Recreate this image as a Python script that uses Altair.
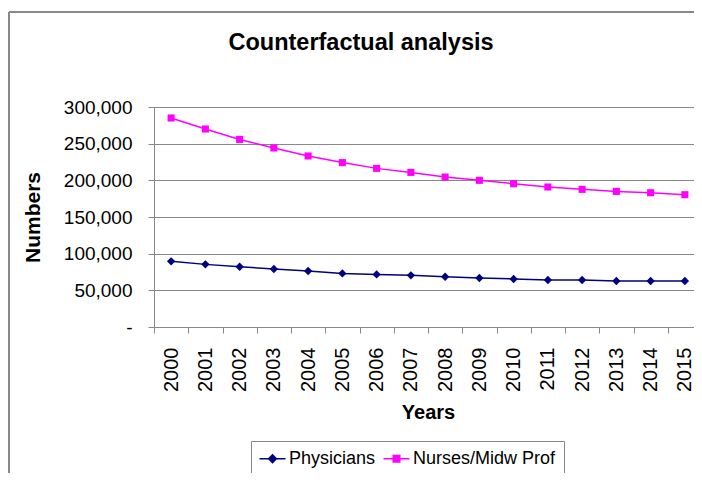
import altair as alt
import pandas as pd

years = [str(y) for y in range(2000, 2016)]
physicians = [89500, 85400, 82200, 79100, 76400, 73100, 71700, 70400, 68600, 66800, 65500, 64100, 64100, 62700, 62700, 62700]
nurses = [285000, 270000, 255800, 244100, 233200, 224200, 216300, 210800, 204500, 200000, 195400, 190900, 187700, 184900, 183100, 180400]
series_names = ["Physicians", "Nurses/Midw Prof"]
series_colors = ["#000080", "#FF00FF"]
legend_paths = [
    "M-1.5,0H1.5M0,-0.45L0.45,0L0,0.45L-0.45,0Z",
    "M-1.5,0H1.5M-0.38,-0.38H0.38V0.38H-0.38Z",
]
y_ticks = [0, 50000, 100000, 150000, 200000, 250000, 300000]

FONT = "Liberation Sans"

df = pd.DataFrame({
    "Year": years * 2,
    "Value": physicians + nurses,
    "Series": [series_names[0]] * len(years) + [series_names[1]] * len(years),
})
df_phys = df[df["Series"] == series_names[0]]
df_nurse = df[df["Series"] == series_names[1]]

x_enc = alt.X(
    "Year:O",
    title="Years",
    scale=alt.Scale(paddingInner=0, paddingOuter=0),
    axis=alt.Axis(
        labelAngle=270,
        labelFontSize=20,
        labelFont=FONT,
        labelColor="black",
        labelPadding=14,
        tickSize=6,
        tickBand="extent",
        tickColor="#888888",
        domainColor="#888888",
        grid=False,
        titleFont=FONT,
        titleFontSize=20,
        titleFontWeight="bold",
        titleColor="black",
        titleX=274,
        titleY=75,
        titleBaseline="top",
        titleAnchor="middle",
    ),
)
y_scale = alt.Scale(domain=[0, 300000], nice=False, zero=True)
y_axis = alt.Axis(
    values=y_ticks,
    labelOverlap=False,
    labelExpr="datum.value == 0 ? '-\u00a0\u00a0\u00a0\u00a0' : format(datum.value, ',')",
    labelFontSize=19,
    labelFont=FONT,
    labelColor="black",
    labelPadding=16,
    tickSize=6,
    tickColor="#888888",
    domainColor="#888888",
    gridColor="#888888",
    gridWidth=1,
    titleFont=FONT,
    titleFontSize=21,
    titleFontWeight="bold",
    titleColor="black",
    titleAngle=270,
    titleX=-121,
    titleY=110,
    titleBaseline="middle",
    titleAlign="center",
)
y_enc = alt.Y("Value:Q", title="Numbers", scale=y_scale, axis=y_axis)

line_phys = alt.Chart(df_phys).mark_line(color=series_colors[0], strokeWidth=1.5).encode(x=x_enc, y=y_enc)
pts_phys = alt.Chart(df_phys).mark_point(filled=True, shape="diamond", size=70, color=series_colors[0], opacity=1).encode(x=x_enc, y=y_enc)
line_nurse = alt.Chart(df_nurse).mark_line(color=series_colors[1], strokeWidth=1.5).encode(x=x_enc, y=y_enc)
pts_nurse = alt.Chart(df_nurse).mark_point(filled=True, shape="square", size=50, color=series_colors[1], opacity=1).encode(x=x_enc, y=y_enc)

leg = dict(
    title=None,
    orient="none",
    legendX=97,
    legendY=334,
    direction="horizontal",
    strokeColor="#888888",
    padding=8,
    labelFont=FONT,
    labelFontSize=18,
    labelColor="black",
    symbolSize=300,
    symbolStrokeWidth=1.5,
    symbolOffset=4,
    labelOffset=7,
    columnPadding=4,
)
legend_layer = (
    alt.Chart(df)
    .transform_calculate(Dummy="-100000")
    .mark_point(filled=True, clip=True, strokeWidth=1.5, opacity=1)
    .encode(
        x=x_enc,
        y=alt.Y("Dummy:Q", title="Numbers", scale=y_scale, axis=y_axis),
        fill=alt.Fill("Series:N", scale=alt.Scale(domain=series_names, range=series_colors), legend=alt.Legend(**leg)),
        stroke=alt.Stroke("Series:N", scale=alt.Scale(domain=series_names, range=series_colors), legend=alt.Legend(**leg)),
        shape=alt.Shape("Series:N", scale=alt.Scale(domain=series_names, range=legend_paths), legend=alt.Legend(**leg)),
    )
)

frame_top = alt.Chart(df).mark_rule(color="#888888", strokeWidth=1.5).encode(
    x=alt.value(-145), x2=alt.value(620), y=alt.value(-95)
)
frame_left = alt.Chart(df).mark_rule(color="#888888", strokeWidth=1.5).encode(
    x=alt.value(-145), y=alt.value(-95), y2=alt.value(400)
)

chart = (
    alt.layer(frame_top, frame_left, line_phys, line_nurse, pts_phys, pts_nurse, legend_layer)
    .properties(
        width=548,
        height=220,
        autosize=alt.AutoSizeParams(type="none"),
        padding={"left": 146, "top": 99, "right": -8, "bottom": 146},
        title=alt.TitleParams(
            "Counterfactual analysis",
            font=FONT,
            fontSize=23.5,
            fontWeight="bold",
            color="black",
            anchor="middle",
            frame="group",
            dx=-67,
            offset=-62,
            baseline="alphabetic",
        ),
    )
    .configure_view(stroke=None)
    .configure(background="white")
)

chart.save("out.html", embed_options={"renderer": "svg", "actions": False})
